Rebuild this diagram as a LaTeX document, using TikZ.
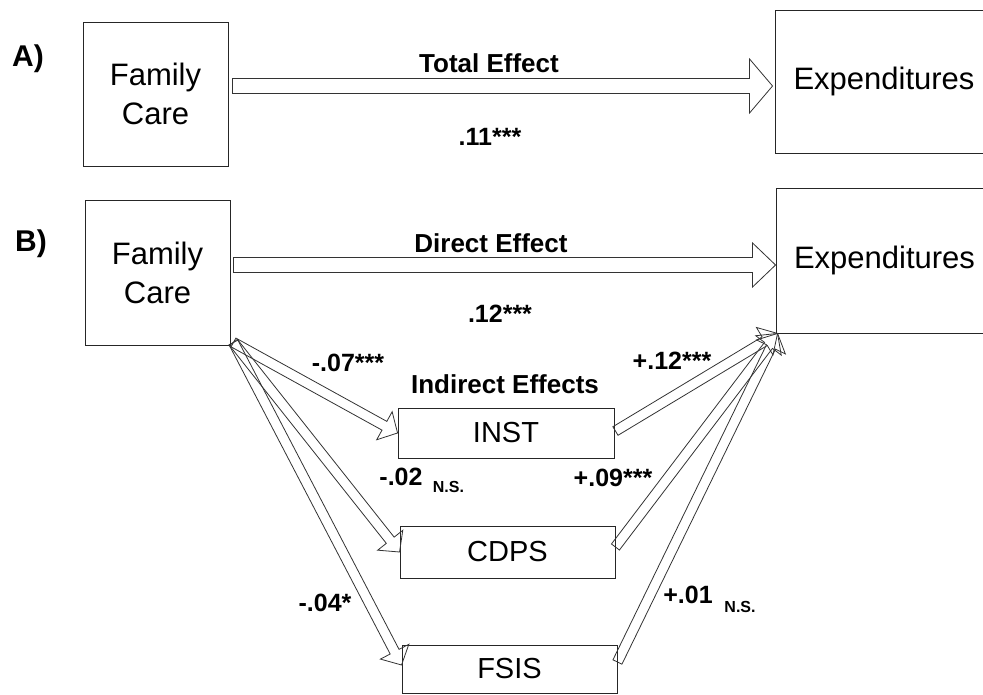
\documentclass[tikz,border=0pt]{standalone}
\usepackage{fontspec}
\setmainfont{Liberation Sans}
\usetikzlibrary{calc}
\tikzset{
 box/.style={draw=black!85, line width=0.9pt, inner sep=0pt, align=center},
 arrowline/.style={draw=black!80, line width=0.8pt, line join=miter},
 bigtxt/.style={font=\fontsize{31}{39}\selectfont},
 medtxt/.style={font=\fontsize{29}{34}\selectfont},
 lab/.style={font=\bfseries\fontsize{26}{30}\selectfont, inner sep=0pt},
 num/.style={font=\bfseries\fontsize{25}{28}\selectfont, inner sep=0pt},
 ns/.style={font=\bfseries\fontsize{16}{18}\selectfont, inner sep=0pt},
 panel/.style={font=\bfseries\fontsize{30}{34}\selectfont, inner sep=0pt},
}
% #1 tail, #2 tip, #3 shaft half width, #4 head half width, #5 head length
\newcommand{\blockarr}[5]{%
  \path ($(#2)!#5!(#1)$) coordinate (hb);
  \draw[arrowline] ($(#1)!#3!90:(#2)$) -- ($(hb)!#3!90:(#2)$) -- ($(hb)!#4!90:(#2)$) -- (#2)
    -- ($(hb)!#4!-90:(#2)$) -- ($(hb)!#3!-90:(#2)$) -- ($(#1)!#3!-90:(#2)$) -- cycle;
}
\begin{document}
\begin{tikzpicture}[x=1pt,y=-1pt]
\useasboundingbox (0,0) rectangle (983,695);
\clip (0,0) rectangle (983,695);

% panel A
\node[panel] (pa) at (28,59) {A)};
\node[box, bigtxt, minimum width=145pt, minimum height=144pt] (fcA) at (155.5,94) {Family\\Care};
\node[box, bigtxt, minimum width=218pt, minimum height=143pt] (expA) at (884,81.5) {Expenditures};
\coordinate (a1) at ($(fcA.east)+(4,-8)$);
\coordinate (a2) at ($(expA.west)+(-2,4.5)$);
\blockarr{a1}{a2}{7.5pt}{27pt}{23pt}
\node[lab] (te) at (489,63) {Total Effect};
\node[num] (n11) at (490,137) {.11***};

% panel B
\node[panel] (pb) at (31,244) {B)};
\node[box, bigtxt, minimum width=145pt, minimum height=145pt] (fcB) at (157.5,272.5) {Family\\Care};
\node[box, bigtxt, minimum width=217pt, minimum height=145pt] (expB) at (884.5,260.5) {Expenditures};
\coordinate (b1) at ($(fcB.east)+(3,-7.5)$);
\coordinate (b2) at ($(expB.west)+(0,4.5)$);
\blockarr{b1}{b2}{7.5pt}{22pt}{23pt}
\node[lab] (de) at (491,243) {Direct Effect};
\node[num] (n12) at (500,314) {.12***};

\node[lab] (ie) at (505,384) {Indirect Effects};
\node[box, medtxt, minimum width=216pt, minimum height=50pt] (inst) at (506,433) {INST};
\node[box, medtxt, minimum width=215pt, minimum height=52pt] (cdps) at (507.5,552) {CDPS};
\node[box, medtxt, minimum width=215pt, minimum height=48pt] (fsis) at (509.5,669) {FSIS};

\coordinate (o) at ($(fcB.south east)+(3,-3)$);
\coordinate (e) at ($(expB.south west)+(2,0)$);
\coordinate (ti) at (inst.west);
\coordinate (tc) at (cdps.west);
\coordinate (tf) at ($(fsis.west)+(0,-4)$);
\coordinate (si) at ($(inst.east)+(1,-2)$);
\coordinate (sc) at ($(cdps.east)+(0,-5)$);
\coordinate (sf) at ($(fsis.east)+(0,-7)$);

\blockarr{o}{ti}{5pt}{16pt}{15pt}
\blockarr{o}{tc}{5pt}{16pt}{15pt}
\blockarr{o}{tf}{5pt}{16pt}{15pt}
\blockarr{si}{e}{5pt}{16pt}{15pt}
\blockarr{sc}{e}{5pt}{16pt}{15pt}
\blockarr{sf}{e}{5pt}{16pt}{15pt}

\node[num] (l07) at (348,363) {-.07***};
\node[num] (l12) at (672,361) {+.12***};
\node[num] (l02) at (401,477) {-.02};
\node[ns] (l02ns) at (448.5,487) {N.S.};
\node[num] (l09) at (613,478) {+.09***};
\node[num] (l04) at (325,603) {-.04*};
\node[num] (l01) at (688,595) {+.01};
\node[ns] (l01ns) at (740,607) {N.S.};
\end{tikzpicture}
\end{document}
